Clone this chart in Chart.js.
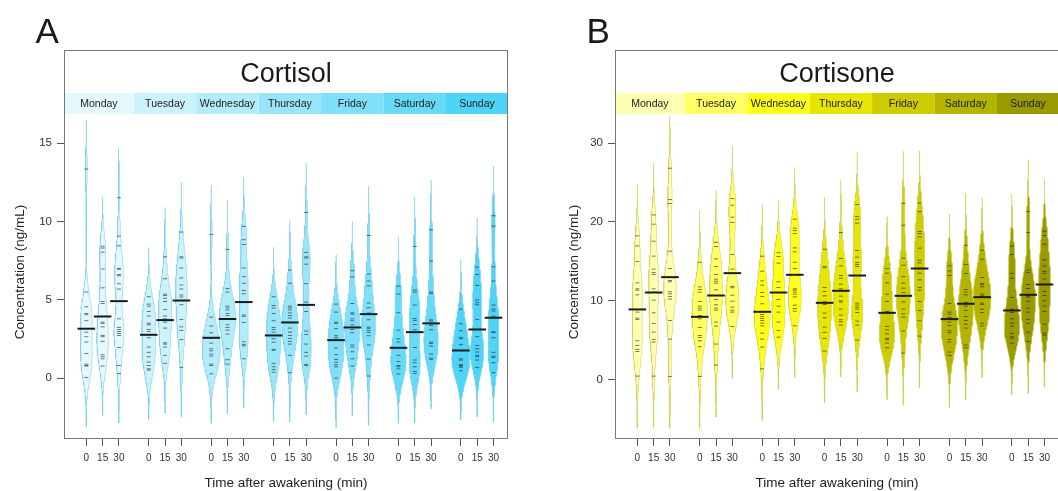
<!DOCTYPE html>
<html><head><meta charset="utf-8">
<script src="https://cdn.jsdelivr.net/npm/chart.js@4.4.1/dist/chart.umd.min.js"></script>
<style>
html,body{margin:0;padding:0;background:#fff;overflow:hidden;width:1058px;height:491px;}
.panel{position:absolute;top:0;width:530px;height:491px;}
#pA{left:0}
#pB{left:551px}
</style></head><body>
<div class="panel" id="pA"><canvas id="cA" width="530" height="491"></canvas></div>
<div class="panel" id="pB"><canvas id="cB" width="530" height="491"></canvas></div>
<script>
// ---------- categories / labels ----------
const days = ['Monday','Tuesday','Wednesday','Thursday','Friday','Saturday','Sunday'];
const timeLabels = ['0','15','30'];
const cortisolTicks = [0,5,10,15];
const cortisoneTicks = [0,10,20,30];

// ---------- Cortisol (ng/mL): observations per day, [0 min, 15 min, 30 min] ----------
const cortisolMonday = [
  [13.34,5.49,4.55,4.12,4.04,3.66,2.93,2.64,2.30,1.57,0.89,0.80,0.77,0.04],
  [8.42,8.30,8.04,6.96,5.76,4.89,4.76,3.57,3.49,3.27,2.72,2.64,2.34,1.49,1.36,1.23,0.77],
  [11.51,9.06,8.44,6.99,6.95,6.61,6.53,6.02,5.68,3.78,3.23,3.10,2.97,2.85,2.72,1.95,0.80,0.29]];
const cortisolTuesday = [
  [5.19,4.72,4.59,4.25,3.96,3.49,3.40,3.10,2.97,2.57,1.98,1.64,1.36,1.02,0.80,0.59,0.51],
  [7.74,6.34,5.36,5.27,5.10,4.89,4.38,3.96,3.78,3.57,3.19,2.25,2.17,1.98,1.45,0.94],
  [9.32,7.74,7.66,7.02,6.39,5.94,5.68,5.30,5.17,4.68,3.74,3.27,3.04,2.46,0.68]];
const cortisolWednesday = [
  [9.17,3.89,3.32,2.89,2.53,2.23,1.87,1.74,1.53,1.40,0.89,0.80,0.27],
  [8.21,5.71,5.49,4.59,4.47,4.34,4.12,3.99,3.78,3.40,3.23,3.06,2.81,1.87,1.17,0.89],
  [9.68,8.83,8.53,7.03,6.47,6.05,5.59,5.38,4.02,3.94,3.55,2.32,2.15,2.06,1.23]];
const cortisolThursday = [
  [5.19,4.63,4.47,4.12,3.66,3.23,3.10,2.93,2.51,2.29,1.83,1.78,0.94,0.72,0.55,0.38],
  [6.89,6.05,4.59,4.47,4.34,4.16,3.99,3.83,3.19,2.93,2.72,2.53,2.34,2.17,1.45,0.34],
  [10.57,8.02,7.74,7.66,7.27,6.03,4.85,4.25,3.00,2.78,2.17,1.64,1.40,0.87,0.80]];
const cortisolFriday = [
  [4.72,4.21,3.57,3.49,3.15,2.70,2.57,2.42,1.91,1.49,1.19,1.02,0.85,0.72,0.00],
  [6.85,6.46,4.76,4.16,4.08,3.78,3.66,3.40,3.10,2.89,2.11,1.98,1.68,1.23,0.77],
  [9.10,6.64,6.19,5.89,4.79,4.49,4.15,3.72,3.25,3.17,3.04,2.91,2.70,2.11,1.21,0.13]];
const cortisolSaturday = [
  [5.87,5.36,4.17,3.06,2.51,2.30,1.45,1.06,0.80,0.72,0.59,0.26],
  [8.40,5.62,5.49,4.66,3.80,3.68,3.42,3.08,1.95,1.15,0.98,0.72,0.42,0.29],
  [9.46,7.47,5.49,5.40,3.72,3.64,3.36,3.08,2.29,2.21,2.04,1.53,1.28,1.19]];
const cortisolSunday = [
  [4.40,3.47,3.02,2.59,2.51,2.13,1.23,1.15,0.85,0.80,0.77,0.68,0.47],
  [7.08,6.61,5.91,4.98,4.81,4.68,3.74,2.64,2.08,1.87,1.66,1.45,1.36,1.15,0.68],
  [10.36,9.70,7.10,6.19,4.66,4.40,4.28,3.94,2.95,2.91,2.57,1.64,1.40,1.32,0.98,0.34]];
const cortisolMeans = [
  [3.15,3.93,4.91],[2.76,3.70,4.95],[2.57,3.77,4.85],[2.72,3.55,4.67],
  [2.42,3.23,4.08],[1.93,2.93,3.49],[1.76,3.10,3.85]];

// ---------- Cortisone (ng/mL) ----------
const cortisoneMonday = [
  [18.24,16.97,14.98,12.27,11.51,11.34,10.75,8.55,7.79,7.62,4.91,4.32,3.81,3.55,0.42],
  [20.90,19.72,17.56,15.66,14.01,13.58,13.33,11.51,11.09,10.07,8.46,7.11,6.01,5.08,4.74,0.42],
  [26.83,22.85,22.34,16.29,14.09,12.57,12.40,11.13,10.87,10.54,10.20,7.49,5.12,0.38]];
const cortisoneTuesday = [
  [14.89,11.76,11.42,11.09,9.90,9.31,9.05,8.80,8.12,7.70,6.60,5.58,5.33,4.91,4.15,0.38],
  [17.43,16.88,15.32,14.34,13.33,12.74,12.48,12.23,11.38,10.16,9.48,9.05,8.80,7.28,6.77,4.49,1.82],
  [22.98,22.13,20.61,19.94,15.87,14.01,11.81,11.64,10.70,9.94,9.18,8.80,8.55,6.73]];
const cortisoneWednesday = [
  [15.65,13.75,12.52,11.97,11.04,10.54,9.61,8.59,8.25,8.00,7.74,7.49,7.15,6.81,5.88,5.12,4.11,1.35],
  [16.10,15.62,14.77,12.40,11.68,10.16,9.31,8.55,7.28,6.22,5.37],
  [20.35,19.21,18.91,18.53,16.71,16.21,14.89,14.09,11.51,11.34,11.09,10.83,10.49,9.44,9.01,8.67,6.81]];
const cortisoneThursday = [
  [16.54,14.34,14.18,11.68,11.17,10.62,9.86,9.52,8.42,7.83,6.64,5.97,5.21,3.60],
  [18.66,15.36,14.43,13.20,12.86,12.10,11.51,10.58,9.99,9.82,8.93,8.17,7.58,7.32,6.90],
  [22.22,20.69,20.35,19.85,16.38,15.53,14.85,14.60,14.34,9.69,9.44,9.18,8.93,8.50,7.40,6.90,4.99]];
const cortisoneFriday = [
  [14.09,13.50,12.27,10.83,9.90,8.63,6.73,6.30,5.80,5.21,5.04,4.61,4.02],
  [22.38,19.59,15.41,14.51,13.07,12.23,11.59,11.04,10.54,9.86,8.93,8.34,7.91,6.14,3.34],
  [22.43,21.32,18.79,18.53,18.11,16.67,15.15,14.81,13.50,12.65,11.68,11.34,9.90,8.76,7.45,5.50]];
const cortisoneSaturday = [
  [14.43,13.79,13.20,9.65,8.55,8.29,7.87,7.28,6.85,6.18,5.93,5.08,4.74,3.47,3.05],
  [17.05,14.60,13.46,11.42,11.09,10.75,9.78,9.31,8.76,8.00,7.49,7.02,6.52,4.36,4.02],
  [16.42,15.28,12.95,12.19,12.02,11.76,10.83,10.62,9.69,9.52,8.93,8.50,7.15,6.81]];
const cortisoneSunday = [
  [16.92,15.86,13.46,12.86,10.41,8.93,8.50,7.70,7.15,6.77,5.84,5.42,5.25,4.61],
  [21.32,18.66,13.88,13.58,12.06,11.55,10.62,10.45,9.94,9.05,8.55,7.62,7.11,6.01,4.83],
  [18.83,18.28,17.18,15.19,14.39,13.71,13.46,12.74,11.17,10.66,9.99,9.31,8.63,7.02,5.88,5.63]];
const cortisoneMeans = [
  [8.89,11.04,12.99],[7.95,10.66,13.50],[8.59,11.04,13.29],[9.73,11.26,13.20],
  [8.46,10.62,14.09],[7.66,9.61,10.45],[8.76,10.75,12.06]];

const cortisolColors  = ['#E5F8FD','#CCF2FC','#B3ECFB','#99E6FA','#80E0F9','#66DAF7','#4DD4F6'];
const cortisoneColors = ['#FFFFB3','#FFFF66','#FFFF1A','#E6E600','#CCCC00','#B3B300','#999900'];

// ---------- layout helpers ----------
const FONT = "'Liberation Sans', Arial, Helvetica, sans-serif";
Chart.defaults.font.family = FONT;
const dayStep = 3.83;
const pos = (d, t) => d * dayStep + t;
const X_MIN = -1.37, X_MAX = 25.87;
const HALF_W = 0.55;   // max half width of a bean, x units

function kde(values, bw, n) {
  const lo = Math.min(...values) - 3 * bw, hi = Math.max(...values) + 3 * bw;
  const out = [];
  const norm = values.length * bw * Math.sqrt(2 * Math.PI);
  for (let i = 0; i < n; i++) {
    const y = lo + (hi - lo) * i / (n - 1);
    let s = 0;
    for (const v of values) { const z = (y - v) / bw; s += Math.exp(-0.5 * z * z); }
    out.push({y, d: s / norm});
  }
  return out;
}

const decoPlugin = {
  id: 'deco',
  beforeDatasetsDraw(chart, args, o) {
    const {ctx, chartArea: a, scales: {x}} = chart;
    const top = a.top + 43, bot = a.top + 64;
    ctx.save();
    days.forEach((day, d) => {
      const l = d === 0 ? a.left : x.getPixelForValue(pos(d, 0) - (dayStep - 2) / 2);
      const r = d === days.length - 1 ? a.right : x.getPixelForValue(pos(d, 2) + (dayStep - 2) / 2);
      ctx.fillStyle = o.colors[d];
      ctx.fillRect(l, top, r - l, bot - top);
      ctx.fillStyle = '#222';
      ctx.font = '10.5px ' + FONT;
      ctx.textAlign = 'center';
      ctx.textBaseline = 'middle';
      ctx.fillText(day, (l + r) / 2, (top + bot) / 2 + 0.5);
    });
    ctx.restore();
  },
  afterDraw(chart, args, o) {
    const {ctx, chartArea: a} = chart;
    ctx.save();
    ctx.strokeStyle = '#777';
    ctx.lineWidth = 1;
    ctx.strokeRect(a.left + 0.5, a.top + 0.5, a.right - a.left - 1, a.bottom - a.top - 1);
    ctx.fillStyle = '#1a1a1a';
    ctx.textAlign = 'center';
    ctx.textBaseline = 'alphabetic';
    ctx.font = '27px ' + FONT;
    ctx.fillText(o.title, (a.left + a.right) / 2, a.top + 32);
    ctx.textAlign = 'left';
    ctx.font = '35px ' + FONT;
    ctx.fillText(o.letter, 35.5, 43);
    ctx.fillStyle = '#222';
    ctx.textAlign = 'center';
    ctx.textBaseline = 'middle';
    ctx.font = '13.5px ' + FONT;
    ctx.fillText('Time after awakening (min)', (a.left + a.right) / 2, 483);
    ctx.translate(o.yTitleX, 272);
    ctx.rotate(-Math.PI / 2);
    ctx.fillText('Concentration (ng/mL)', 0, 0);
    ctx.restore();
  }
};

function makePanel(id, p) {
  const beans = [];
  p.obs.forEach((dayArr, d) => dayArr.forEach((vals, t) => {
    beans.push({d, t, x: pos(d, t), dens: kde(vals, p.bw, 90), vals});
  }));
  const maxD = Math.max(...beans.map(b => Math.max(...b.dens.map(q => q.d))));
  const scale = HALF_W / maxD;

  const violinSets = beans.map(b => {
    const right = b.dens.map(q => ({x: b.x + q.d * scale, y: q.y}));
    const left = b.dens.slice().reverse().map(q => ({x: b.x - q.d * scale, y: q.y}));
    return {
      data: right.concat(left),
      fill: 'shape',
      backgroundColor: p.colors[b.d],
      borderColor: p.edge,
      borderWidth: 1,
      pointRadius: 0,
      tension: 0,
      order: 3
    };
  });
  const obsPts = [];
  beans.forEach(b => b.vals.forEach(v => obsPts.push({x: b.x, y: v})));
  const meanPts = [];
  p.means.forEach((arr, d) => arr.forEach((m, t) => meanPts.push({x: pos(d, t), y: m})));
  const tickPositions = [];
  days.forEach((_, d) => timeLabels.forEach((_, t) => tickPositions.push(pos(d, t))));

  new Chart(document.getElementById(id), {
    type: 'line',
    data: {
      datasets: [
        {data: meanPts, showLine: false, pointStyle: 'line', pointRadius: 8.8,
         pointBorderWidth: 2, pointBorderColor: '#1a1a1a', pointBackgroundColor: '#1a1a1a', order: 1},
        {data: obsPts, showLine: false, pointStyle: 'line', pointRadius: 2,
         pointBorderWidth: 1, pointBorderColor: 'rgba(30,30,30,0.6)', order: 2},
        ...violinSets
      ]
    },
    options: {
      responsive: false,
      animation: false,
      events: [],
      layout: {padding: {top: 50, right: 22, left: 0, bottom: 0}},
      plugins: {
        legend: {display: false},
        tooltip: {enabled: false},
        deco: {colors: p.colors, title: p.title, letter: p.letter, yTitleX: p.yTitleX}
      },
      scales: {
        x: {
          type: 'linear', min: X_MIN, max: X_MAX,
          afterBuildTicks: s => { s.ticks = tickPositions.map(v => ({value: v})); },
          afterFit: s => { s.height = 52; },
          ticks: {autoSkip: false, maxRotation: 0, padding: 6, color: '#333',
                  font: {size: 10}, callback: (v, i) => timeLabels[i % 3]},
          grid: {drawOnChartArea: false, drawTicks: true, tickLength: 7, color: '#555'},
          border: {display: false}
        },
        y: {
          type: 'linear', min: p.yMin, max: p.yMax,
          afterBuildTicks: s => { s.ticks = p.yTicks.map(v => ({value: v})); },
          afterFit: s => { s.width = 64; },
          ticks: {padding: 5, color: '#333', font: {size: 11.5}},
          grid: {drawOnChartArea: false, drawTicks: true, tickLength: 7, color: '#555'},
          border: {display: false}
        }
      }
    },
    plugins: [decoPlugin]
  });
}

makePanel('cA', {
  obs: [cortisolMonday, cortisolTuesday, cortisolWednesday, cortisolThursday,
        cortisolFriday, cortisolSaturday, cortisolSunday],
  means: cortisolMeans, bw: 1.05, colors: cortisolColors, edge: 'rgba(120,205,235,0.55)',
  yMin: -3.89, yMax: 20.94, yTicks: cortisolTicks,
  title: 'Cortisol', letter: 'A', yTitleX: 20
});
makePanel('cB', {
  obs: [cortisoneMonday, cortisoneTuesday, cortisoneWednesday, cortisoneThursday,
        cortisoneFriday, cortisoneSaturday, cortisoneSunday],
  means: cortisoneMeans, bw: 2.2, colors: cortisoneColors, edge: 'rgba(205,205,80,0.55)',
  yMin: -7.57, yMax: 41.85, yTicks: cortisoneTicks,
  title: 'Cortisone', letter: 'B', yTitleX: 23.5
});
</script>
</body></html>
